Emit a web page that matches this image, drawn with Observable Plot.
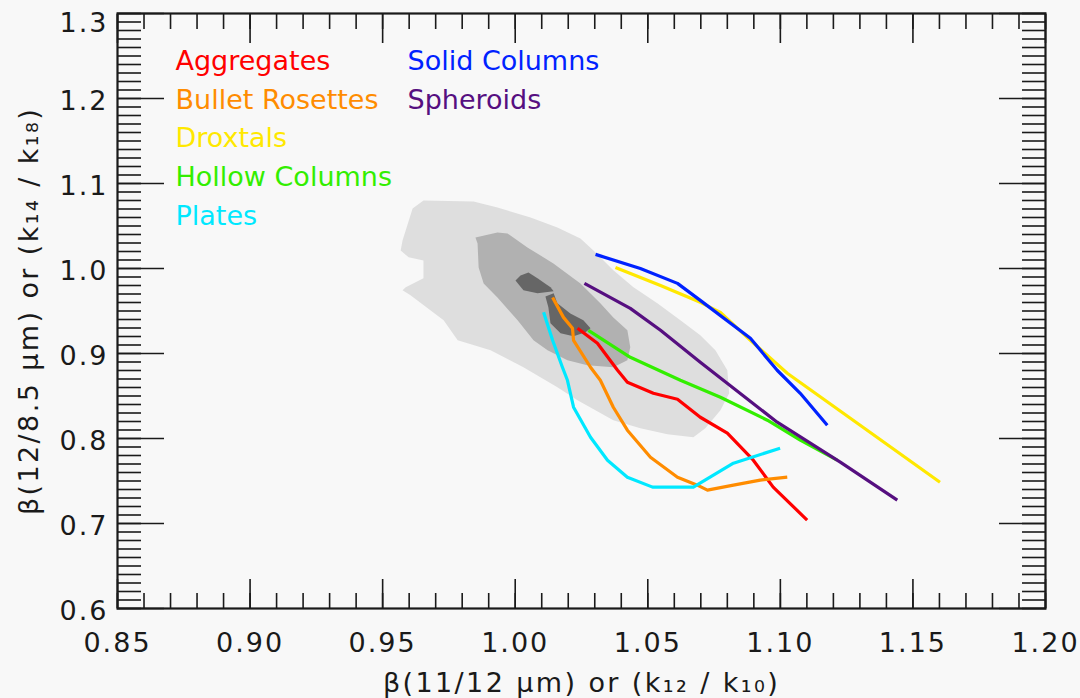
<!DOCTYPE html>
<html>
<head>
<meta charset="utf-8">
<script src="https://cdn.jsdelivr.net/npm/d3@7"></script>
<script src="https://cdn.jsdelivr.net/npm/@observablehq/plot@0.6"></script>
<style>
  html, body { margin: 0; padding: 0; background: #f8f8f8; }
  #chart { width: 1080px; height: 698px; }
</style>
</head>
<body>
<div id="chart"></div>
<script>
// ---- Tick values ----
const xMajorTicks = [0.85, 0.90, 0.95, 1.00, 1.05, 1.10, 1.15, 1.20];
const yMajorTicks = [0.6, 0.7, 0.8, 0.9, 1.0, 1.1, 1.2, 1.3];
const xMinorTicks = d3.range(85, 121).map(i => i / 100);
const yMinorTicks = d3.range(60, 131).map(i => i / 100);
const xTitle = "β(11/12 μm) or (k₁₂ / k₁₀)";
const yTitle = "β(12/8.5 μm) or (k₁₄ / k₁₈)";

// ---- Series (habit curves) ----
const seriesNames = ["Aggregates", "Bullet Rosettes", "Droxtals", "Hollow Columns", "Plates", "Solid Columns", "Spheroids"];
const seriesColors = ["#ff0000", "#ff8c00", "#ffe800", "#33ee00", "#00e8ff", "#0022ff", "#560f80"];

const aggregatesX = [1.0235, 1.0310, 1.0386, 1.0423, 1.0521, 1.0612, 1.0698, 1.0800, 1.0898, 1.0973, 1.1101];
const aggregatesY = [0.9296, 0.9120, 0.8803, 0.8661, 0.8532, 0.8462, 0.8250, 0.8062, 0.7745, 0.7428, 0.7040];

const bulletX = [1.0141, 1.0182, 1.0216, 1.0220, 1.0284, 1.0321, 1.0370, 1.0423, 1.0510, 1.0612, 1.0687, 1.0725, 1.0823, 1.0924, 1.1026];
const bulletY = [0.9660, 0.9425, 0.9296, 0.9155, 0.8838, 0.8685, 0.8368, 0.8098, 0.7780, 0.7545, 0.7451, 0.7392, 0.7451, 0.7510, 0.7545];

const droxtalsX = [1.0378, 1.0548, 1.0698, 1.0774, 1.0887, 1.1026, 1.1301, 1.1602];
const droxtalsY = [1.0013, 0.9801, 0.9602, 0.9484, 0.9155, 0.8767, 0.8156, 0.7486];

const hollowX = [1.0276, 1.0434, 1.0623, 1.0774, 1.0951, 1.1075, 1.1214];
const hollowY = [0.9273, 0.8955, 0.8685, 0.8485, 0.8215, 0.7980, 0.7745];

const platesX = [1.0107, 1.0141, 1.0178, 1.0197, 1.0220, 1.0284, 1.0348, 1.0423, 1.0518, 1.0672, 1.0823, 1.0999];
const platesY = [0.9484, 0.9155, 0.8838, 0.8685, 0.8368, 0.8015, 0.7745, 0.7545, 0.7428, 0.7428, 0.7710, 0.7886];

const solidX = [1.0303, 1.0472, 1.0612, 1.0698, 1.0887, 1.0988, 1.1075, 1.1177];
const solidY = [1.0166, 1.0001, 0.9825, 0.9625, 0.9179, 0.8803, 0.8532, 0.8156];

const spheroidsX = [1.0261, 1.0434, 1.0548, 1.0698, 1.0988, 1.1226, 1.1441];
const spheroidsY = [0.9825, 0.9531, 0.9273, 0.8896, 0.8192, 0.7722, 0.7275];

// ---- Observation density contours (outer, middle, inner) ----
const outerX = [0.9654, 0.9843, 0.9933, 1.0058, 1.0159, 1.0246, 1.0295, 1.0370, 1.0446, 1.0536, 1.0623, 1.0698, 1.0755, 1.0800, 1.0807, 1.0774, 1.0717, 1.0672, 1.0574, 1.0472, 1.0370, 1.0235, 1.0159, 1.0031, 0.9907, 0.9783, 0.9730, 0.9605, 0.9575, 0.9587, 0.9654, 0.9654, 0.9598, 0.9568, 0.9575, 0.9613];
const outerY = [1.0800, 1.0788, 1.0718, 1.0600, 1.0483, 1.0354, 1.0213, 0.9978, 0.9778, 0.9590, 0.9390, 0.9214, 0.9038, 0.8803, 0.8532, 0.8333, 0.8121, 0.8015, 0.8051, 0.8121, 0.8215, 0.8450, 0.8603, 0.8838, 0.9038, 0.9155, 0.9390, 0.9684, 0.9743, 0.9778, 0.9884, 1.0095, 1.0131, 1.0213, 1.0330, 1.0706];

const middleX = [0.9850, 0.9933, 0.9971, 1.0046, 1.0144, 1.0246, 1.0321, 1.0370, 1.0423, 1.0434, 1.0423, 1.0370, 1.0272, 1.0197, 1.0122, 1.0069, 1.0009, 0.9933, 0.9881, 0.9862, 0.9858];
const middleY = [1.0365, 1.0424, 1.0412, 1.0248, 1.0060, 0.9825, 0.9590, 0.9425, 0.9273, 0.9073, 0.8920, 0.8838, 0.8862, 0.8920, 0.9038, 0.9155, 0.9390, 0.9660, 0.9825, 1.0013, 1.0295];

const innerAX = [1.0001, 1.0020, 1.0050, 1.0084, 1.0133, 1.0145, 1.0084, 1.0031];
const innerAY = [0.9860, 0.9919, 0.9954, 0.9884, 0.9778, 0.9731, 0.9708, 0.9743];

const innerBX = [1.0114, 1.0145, 1.0159, 1.0208, 1.0257, 1.0284, 1.0265, 1.0220, 1.0171, 1.0133, 1.0125];
const innerBY = [0.9672, 0.9708, 0.9590, 0.9472, 0.9390, 0.9296, 0.9249, 0.9202, 0.9237, 0.9355, 0.9543];

const contourColors = ["#dedede", "#b1b1b1", "#666666"];

// ---- Build tables ----
const zipXY = (xs, ys, extra) => xs.map((x, i) => ({x, y: ys[i], ...extra}));
const seriesXs = [aggregatesX, bulletX, droxtalsX, hollowX, platesX, solidX, spheroidsX];
const seriesYs = [aggregatesY, bulletY, droxtalsY, hollowY, platesY, solidY, spheroidsY];
const lines = seriesNames.flatMap((name, k) => zipXY(seriesXs[k], seriesYs[k], {type: name}));

const contours = [
  {pts: zipXY(outerX, outerY, {}), fill: contourColors[0]},
  {pts: zipXY(middleX, middleY, {}), fill: contourColors[1]},
  {pts: zipXY(innerAX, innerAY, {}), fill: contourColors[2]},
  {pts: zipXY(innerBX, innerBY, {}), fill: contourColors[2]}
];

const font = "DejaVu Sans";
const fs = 27;
const ink = "#1a1a1a";

const legendMarks = seriesNames.map((name, i) => {
  const col = Math.floor(i / 5), row = i % 5;
  return Plot.text([name], {
    frameAnchor: "top-left",
    dx: 58 + col * 232,
    dy: 48 + row * 38.6,
    text: d => d,
    fill: seriesColors[i],
    fontSize: fs,
    textAnchor: "start",
    lineAnchor: "middle",
    fontFamily: font
  });
});

const yLabelTicks = yMajorTicks.slice(0, -1);
const yTopLabel = yMajorTicks.slice(-1);

const chart = Plot.plot({
  width: 1080,
  height: 698,
  marginLeft: 117,
  marginRight: 35,
  marginTop: 13,
  marginBottom: 90,
  style: {background: "#f8f8f8", fontFamily: font, color: ink},
  x: {domain: [0.85, 1.20], label: null},
  y: {domain: [0.6, 1.3], label: null},
  color: {domain: seriesNames, range: seriesColors},
  marks: [
    ...contours.map(c => Plot.line(c.pts, {x: "x", y: "y", fill: c.fill, stroke: "none", curve: "linear-closed"})),
    Plot.line(lines, {x: "x", y: "y", z: "type", stroke: "type", strokeWidth: 3.2, strokeLinejoin: "round", strokeLinecap: "butt"}),
    // minor ticks (inward)
    Plot.axisX(xMinorTicks, {anchor: "bottom", tickSize: -15, fill: "none", label: null, strokeWidth: 1.6}),
    Plot.axisX(xMinorTicks, {anchor: "top", tickSize: -15, fill: "none", label: null, strokeWidth: 1.6}),
    Plot.axisY(yMinorTicks, {anchor: "left", tickSize: -24, fill: "none", label: null, strokeWidth: 1.6}),
    Plot.axisY(yMinorTicks, {anchor: "right", tickSize: -24, fill: "none", label: null, strokeWidth: 1.6}),
    // major ticks (inward)
    Plot.axisX(xMajorTicks, {anchor: "bottom", tickSize: -29, fill: "none", label: null, strokeWidth: 1.6}),
    Plot.axisX(xMajorTicks, {anchor: "top", tickSize: -29, fill: "none", label: null, strokeWidth: 1.6}),
    Plot.axisY(yMajorTicks, {anchor: "left", tickSize: -47, fill: "none", label: null, strokeWidth: 1.6}),
    Plot.axisY(yMajorTicks, {anchor: "right", tickSize: -47, fill: "none", label: null, strokeWidth: 1.6}),
    // tick labels
    Plot.axisX(xMajorTicks, {anchor: "bottom", tickSize: 0, tickPadding: 24, tickFormat: d3.format(".2f"), fontSize: fs, label: null}),
    Plot.axisY(yLabelTicks, {anchor: "left", tickSize: 0, tickPadding: 9, dy: 3, tickFormat: d3.format(".1f"), fontSize: fs, label: null}),
    Plot.axisY(yTopLabel, {anchor: "left", tickSize: 0, tickPadding: 9, dy: 10, tickFormat: d3.format(".1f"), fontSize: fs, label: null}),
    Plot.frame({stroke: ink, strokeWidth: 2.2}),
    // axis titles
    Plot.text([xTitle], {frameAnchor: "bottom", dy: 75, lineAnchor: "middle", textAnchor: "middle", text: d => d, fontSize: fs, fontFamily: font, fill: ink}),
    Plot.text([yTitle], {frameAnchor: "left", dx: -88, dy: 0, rotate: -90, lineAnchor: "middle", textAnchor: "middle", text: d => d, fontSize: fs, fontFamily: font, fill: ink}),
    ...legendMarks
  ]
});

// wider glyph spacing like the original vector font
d3.select(chart).selectAll("text")
  .filter(function() { return this.textContent === xTitle || this.textContent === yTitle; })
  .style("letter-spacing", "2.4px");
d3.select(chart).selectAll('g[aria-label="x-axis tick label"] text, g[aria-label="y-axis tick label"] text').style("letter-spacing", "2px");

document.getElementById("chart").appendChild(chart);
</script>
</body>
</html>
